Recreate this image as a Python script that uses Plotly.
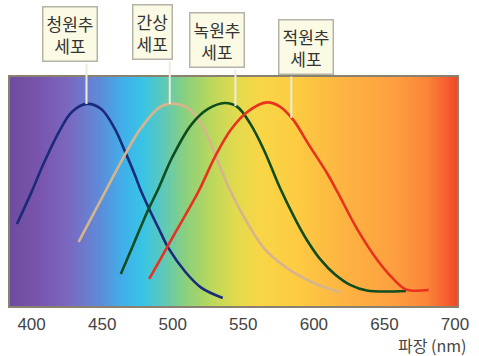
import numpy as np
import plotly.graph_objects as go

# ---- data ----
blue_wl = [389.6, 400, 407.6, 419.4, 428.5, 438.9, 449.3, 459.0, 466.0, 472.9, 477.1, 484.0, 490.3, 497.2, 509.0, 520.1, 535.4]
blue_s = [0.356, 0.527, 0.662, 0.846, 0.952, 0.995, 0.968, 0.862, 0.745, 0.622, 0.540, 0.425, 0.328, 0.225, 0.101, 0.018, -0.037]

rod_wl = [433.3, 452.1, 466.0, 477.1, 490.3, 497.2, 509.0, 516.0, 525.0, 534.0, 541.0, 550.7, 564.6, 578.5, 595.8, 609.7, 618.8]
rod_s = [0.261, 0.527, 0.723, 0.862, 0.975, 0.995, 0.982, 0.935, 0.819, 0.650, 0.530, 0.390, 0.228, 0.135, 0.057, 0.014, -0.005]

green_wl = [463.2, 472.9, 481.9, 490.3, 499.3, 513.2, 525.0, 536.8, 545.8, 554.9, 564.6, 575.7, 587.5, 595.8, 604.9, 614.6, 625.7, 637.5, 665.3]
green_s = [0.090, 0.261, 0.420, 0.552, 0.706, 0.885, 0.968, 1.0, 0.979, 0.890, 0.750, 0.553, 0.372, 0.262, 0.165, 0.090, 0.032, 0.002, 0.0]

red_wl = [483.3, 490.3, 502.1, 518.1, 529.9, 541.0, 552.8, 566.7, 575.7, 585.4, 595.8, 609.7, 616.7, 630.6, 644.4, 656.3, 665.3, 681.3]
red_s = [0.064, 0.156, 0.314, 0.527, 0.713, 0.856, 0.952, 1.003, 0.982, 0.910, 0.785, 0.622, 0.527, 0.330, 0.170, 0.064, 0.008, 0.005]

tick_vals = [400, 450, 500, 550, 600, 650, 700]
tick_text = ["400", "450", "500", "550", "600", "650", "700"]

label_texts = ["청원추<br>세포", "간상<br>세포", "녹원추<br>세포", "적원추<br>세포"]
label_wl = [438.9, 497.9, 544.4, 584.0]

# ---- styles ----
X_RANGE = [384.7, 701.4]
Y_RANGE = [-0.08, 1.138]
curve_colors = ["#1b2a7a", "#d6b48c", "#0f4d1e", "#e8321e"]
label_xshift = [-17, -17, -18, 15]
label_yshift = [15, 17, 9, 2]   # gap from plot top to box bottom (px)
box_bottom_px = [62, 60, 68, 75]
px_per_unit = 188.0

spectrum_wl = [384.7, 405.6, 426.0, 447.0, 464.6, 478.5, 492.0, 509.7, 527.0, 544.4, 561.8, 586.0, 620.8, 655.6, 680.0, 693.8, 701.4]
spectrum_col = ["#6e4c9e", "#7a55ae", "#7a68c0", "#5f8ad8", "#40b0ea", "#38c4e6", "#5ac8bc", "#8ed07a", "#bad85c",
                "#e2da4e", "#f8d646", "#fdcc42", "#fdb442", "#fda040", "#fb8538", "#f55e30", "#ee4828"]

fig = go.Figure()

# spectrum background
bg_x = np.linspace(X_RANGE[0], X_RANGE[1], 400)
cs = [[(w - X_RANGE[0]) / (X_RANGE[1] - X_RANGE[0]), c] for w, c in zip(spectrum_wl, spectrum_col)]
fig.add_trace(go.Heatmap(x=bg_x, y=[Y_RANGE[0] - 0.1, Y_RANGE[1] + 0.1], z=[bg_x, bg_x],
                         colorscale=cs, zmin=X_RANGE[0], zmax=X_RANGE[1], showscale=False,
                         hoverinfo="skip", zsmooth="best"))

series = [(blue_wl, blue_s), (rod_wl, rod_s), (green_wl, green_s), (red_wl, red_s)]
for (wl, s), col in zip(series, curve_colors):
    fig.add_trace(go.Scatter(x=wl, y=s, mode="lines",
                             line=dict(color=col, width=2.6, shape="spline", smoothing=1.0),
                             hoverinfo="skip", showlegend=False))

annotations = []
for i, (txt, wl) in enumerate(zip(label_texts, label_wl)):
    sw, ss = series[i]
    yv = float(np.interp(wl, sw, ss))
    y_px = 291 - yv * px_per_unit
    # connector
    annotations.append(dict(x=wl, y=yv, xref="x", yref="y", text="", showarrow=True,
                            arrowhead=0, arrowwidth=2, arrowcolor="#ecebdc",
                            ax=0, ay=-(y_px - box_bottom_px[i]), standoff=0))
    # label box
    annotations.append(dict(x=wl, y=1, xref="x", yref="paper", text=txt, showarrow=False,
                            xanchor="center", yanchor="bottom", xshift=label_xshift[i], yshift=label_yshift[i],
                            font=dict(family="Noto Sans CJK KR", size=17, color="#333333"),
                            bgcolor="#fbfae4", bordercolor="#b4b4a8", borderwidth=1.5, borderpad=3,
                            align="center"))

annotations.append(dict(x=1, y=0, xref="paper", yref="paper", text="파장 (nm)", showarrow=False,
                        xanchor="right", yanchor="middle", xshift=11, yshift=-39,
                        font=dict(family="Noto Sans CJK KR, Liberation Sans", size=16, color="#444444")))

fig.update_layout(
    margin=dict(l=10, r=13, t=77, b=50),
    paper_bgcolor="white", plot_bgcolor="white",
    showlegend=False,
    annotations=annotations,
    xaxis=dict(range=X_RANGE, tickvals=tick_vals, ticktext=tick_text, showgrid=False, zeroline=False,
               showline=True, mirror=True, linecolor="#8a8070", linewidth=1.5, ticks="",
               tickfont=dict(family="Liberation Sans, Arial", size=17, color="#444444"),
               ticklabelstandoff=2),
    yaxis=dict(range=Y_RANGE, showticklabels=False, showgrid=False, zeroline=False,
               showline=True, mirror=True, linecolor="#8a8070", linewidth=1.5, ticks=""),
)

# the plot div is pinned to the page's top-left corner at the full 479x356 size
fig.write_html("out.html", config={"displayModeBar": False},
               default_width="479px; position:absolute; left:0px; top:0px",
               default_height="356px")
